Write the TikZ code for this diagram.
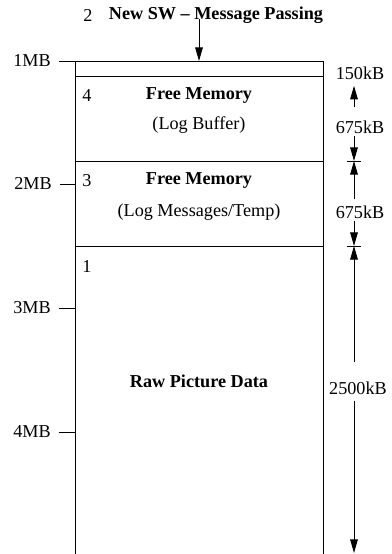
\documentclass[tikz,border=0pt]{standalone}
\usepackage{fontspec}
\setmainfont{Liberation Serif}
\usetikzlibrary{arrows.meta,calc,positioning}
\tikzstyle{memline} = [line width=0.5pt]
\tikzstyle{heading} = [font=\bfseries]
\tikzstyle{dimarrow} = [line width=0.5pt,-{Triangle[length=7.5pt,width=4.2pt]}]

\begin{document}
\begin{tikzpicture}[x=0.55pt,y=-0.55pt]
\useasboundingbox (0,0) rectangle (391,554);
% memory block
\coordinate (tl) at (75,61);
\coordinate (tr) at (323,61);
\coordinate (bl) at (75,554);
\coordinate (br) at (323,554);
\draw[memline] (bl) -- (tl) -- (tr) -- (br);
\foreach \y/\n in {76/s1,161/s2,246/s3}
  \draw[memline] (75,\y) coordinate (\n l) -- (323,\y) coordinate (\n r);

% addresses
\node (mb1) at (32,61) {1MB};
\node (mb2) at (33,184) {2MB};
\node (mb3) at (32,308) {3MB};
\node (mb4) at (32,432) {4MB};
\foreach \m in {mb1,mb2,mb3,mb4}
  \draw[memline, shorten <=1pt] (\m.east) -- (\m.east -| tl);

% incoming
\node (n2) at (88,15) {2};
\node (sw) [heading] at (216,15) {New SW -- Message Passing};
\coordinate (swin) at (199,61);
\draw[dimarrow] (swin |- sw.base) -- (swin);

% regions
\node (n4) at (87,96) {4};
\node (fm4) [heading] at (199,96) {Free Memory};
\node (lb) at (199,125) {(Log Buffer)};
\node (n3) at (87,181) {3};
\node (fm3) [heading] at (199,181) {Free Memory};
\node (lm) at (199,212) {(Log Messages/Temp)};
\node (n1) at (87,266) {1};
\node (raw) [heading] at (199,381) {Raw Picture Data};

% sizes
\coordinate (dimx) at (354,0);
\coordinate (s2d) at (354,161);
\coordinate (s3d) at (354,246);
\coordinate (endd) at (354,553);
\node (k150) at (360,73) {150kB};
\node (k675a) at (360,127) {675kB};
\node (k675b) at (360,212) {675kB};
\node (k2500) at (358,388) {2500kB};
\draw[dimarrow, shorten <=4pt] (k675a.north -| dimx) -- (k150.south -| dimx);
\draw[dimarrow, shorten <=-2pt] (k675a.south -| dimx) -- (s2d);
\draw[dimarrow] (k675b.north -| dimx) -- (s2d);
\draw[dimarrow, shorten <=-2pt] (k675b.south -| dimx) -- (s3d);
\draw[dimarrow, shorten <=7pt] (k2500.north -| dimx) -- (s3d);
\draw[dimarrow] (k2500.south -| dimx) -- (endd);
\foreach \c in {s2d,s3d}
  \draw[memline] ([xshift=-4pt]\c) -- ([xshift=4pt]\c);
\end{tikzpicture}
\end{document}
